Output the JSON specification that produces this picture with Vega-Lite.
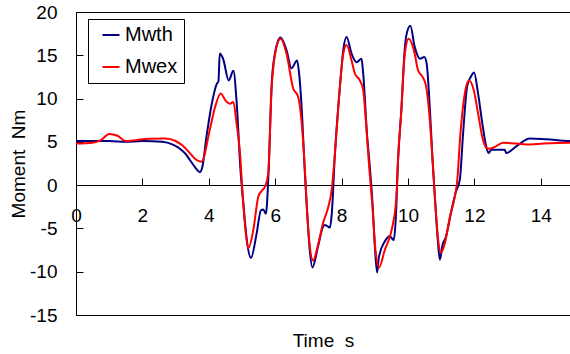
{
  "$schema": "https://vega.github.io/schema/vega-lite/v6.json",
  "width": 498,
  "height": 303,
  "autosize": {"type": "none"},
  "padding": {"left": 76, "top": 12, "right": 0, "bottom": 39},
  "background": "white",
  "config": {
    "font": "Liberation Sans",
    "view": {"stroke": "#000", "strokeWidth": 1},
    "axis": {"grid": false, "domainColor": "#000", "tickColor": "#000", "labelColor": "#000", "titleColor": "#000", "labelFont": "Liberation Sans", "titleFont": "Liberation Sans", "titleFontWeight": "normal"}
  },
  "data": {"values": [
    {"t":0,"m":5.1,"s":"Mwth"},{"t":0.5,"m":5.1,"s":"Mwth"},{"t":1.0,"m":5.1,"s":"Mwth"},{"t":1.5,"m":5.0,"s":"Mwth"},{"t":2.0,"m":5.1,"s":"Mwth"},{"t":2.6,"m":5.0,"s":"Mwth"},{"t":2.9,"m":4.7,"s":"Mwth"},{"t":3.13,"m":4.2,"s":"Mwth"},{"t":3.3,"m":3.6,"s":"Mwth"},{"t":3.43,"m":2.9,"s":"Mwth"},{"t":3.6,"m":2.0,"s":"Mwth"},{"t":3.73,"m":1.5,"s":"Mwth"},{"t":3.8,"m":2.0,"s":"Mwth"},{"t":3.93,"m":5.6,"s":"Mwth"},{"t":4.08,"m":9.2,"s":"Mwth"},{"t":4.24,"m":11.7,"s":"Mwth"},{"t":4.29,"m":12.0,"s":"Mwth"},{"t":4.33,"m":15.2,"s":"Mwth"},{"t":4.43,"m":14.6,"s":"Mwth"},{"t":4.6,"m":12.1,"s":"Mwth"},{"t":4.74,"m":13.2,"s":"Mwth"},{"t":4.84,"m":9.5,"s":"Mwth"},{"t":4.95,"m":2.0,"s":"Mwth"},{"t":5.05,"m":-2.5,"s":"Mwth"},{"t":5.15,"m":-6.5,"s":"Mwth"},{"t":5.27,"m":-8.4,"s":"Mwth"},{"t":5.44,"m":-5.6,"s":"Mwth"},{"t":5.57,"m":-2.9,"s":"Mwth"},{"t":5.64,"m":-2.8,"s":"Mwth"},{"t":5.72,"m":-3.3,"s":"Mwth"},{"t":5.8,"m":1.5,"s":"Mwth"},{"t":5.89,"m":11.4,"s":"Mwth"},{"t":5.99,"m":15.2,"s":"Mwth"},{"t":6.08,"m":16.6,"s":"Mwth"},{"t":6.16,"m":17.05,"s":"Mwth"},{"t":6.34,"m":15.6,"s":"Mwth"},{"t":6.49,"m":13.5,"s":"Mwth"},{"t":6.66,"m":14.4,"s":"Mwth"},{"t":6.72,"m":12.9,"s":"Mwth"},{"t":6.79,"m":9.4,"s":"Mwth"},{"t":6.89,"m":1.7,"s":"Mwth"},{"t":6.96,"m":-3.0,"s":"Mwth"},{"t":7.04,"m":-7.5,"s":"Mwth"},{"t":7.12,"m":-9.5,"s":"Mwth"},{"t":7.29,"m":-7.1,"s":"Mwth"},{"t":7.44,"m":-4.8,"s":"Mwth"},{"t":7.5,"m":-4.6,"s":"Mwth"},{"t":7.65,"m":-4.9,"s":"Mwth"},{"t":7.7,"m":-3.5,"s":"Mwth"},{"t":7.8,"m":3.7,"s":"Mwth"},{"t":7.95,"m":11.4,"s":"Mwth"},{"t":8.05,"m":15.6,"s":"Mwth"},{"t":8.15,"m":17.1,"s":"Mwth"},{"t":8.3,"m":15.2,"s":"Mwth"},{"t":8.45,"m":14.2,"s":"Mwth"},{"t":8.6,"m":14.6,"s":"Mwth"},{"t":8.65,"m":12.9,"s":"Mwth"},{"t":8.77,"m":5.6,"s":"Mwth"},{"t":8.85,"m":2.1,"s":"Mwth"},{"t":8.93,"m":-2.0,"s":"Mwth"},{"t":9.0,"m":-7.0,"s":"Mwth"},{"t":9.07,"m":-10.1,"s":"Mwth"},{"t":9.12,"m":-8.4,"s":"Mwth"},{"t":9.3,"m":-6.5,"s":"Mwth"},{"t":9.45,"m":-5.9,"s":"Mwth"},{"t":9.57,"m":-6.35,"s":"Mwth"},{"t":9.63,"m":-4.0,"s":"Mwth"},{"t":9.7,"m":2.9,"s":"Mwth"},{"t":9.8,"m":8.7,"s":"Mwth"},{"t":9.9,"m":15.6,"s":"Mwth"},{"t":9.95,"m":17.3,"s":"Mwth"},{"t":10.07,"m":18.4,"s":"Mwth"},{"t":10.2,"m":16.0,"s":"Mwth"},{"t":10.36,"m":14.6,"s":"Mwth"},{"t":10.49,"m":14.8,"s":"Mwth"},{"t":10.56,"m":14.1,"s":"Mwth"},{"t":10.66,"m":8.7,"s":"Mwth"},{"t":10.74,"m":2.9,"s":"Mwth"},{"t":10.82,"m":-2.0,"s":"Mwth"},{"t":10.9,"m":-6.5,"s":"Mwth"},{"t":10.96,"m":-8.6,"s":"Mwth"},{"t":11.04,"m":-6.9,"s":"Mwth"},{"t":11.14,"m":-6.0,"s":"Mwth"},{"t":11.31,"m":-2.9,"s":"Mwth"},{"t":11.44,"m":-0.8,"s":"Mwth"},{"t":11.56,"m":0.6,"s":"Mwth"},{"t":11.66,"m":6.0,"s":"Mwth"},{"t":11.78,"m":11.4,"s":"Mwth"},{"t":11.89,"m":12.5,"s":"Mwth"},{"t":11.99,"m":13.0,"s":"Mwth"},{"t":12.11,"m":10.6,"s":"Mwth"},{"t":12.24,"m":7.1,"s":"Mwth"},{"t":12.36,"m":4.4,"s":"Mwth"},{"t":12.43,"m":3.7,"s":"Mwth"},{"t":12.51,"m":4.1,"s":"Mwth"},{"t":12.91,"m":4.1,"s":"Mwth"},{"t":12.96,"m":3.7,"s":"Mwth"},{"t":13.27,"m":4.5,"s":"Mwth"},{"t":13.67,"m":5.4,"s":"Mwth"},{"t":14.17,"m":5.3,"s":"Mwth"},{"t":14.87,"m":5.1,"s":"Mwth"},{"t":15,"m":5.1,"s":"Mwth"},
    {"t":0,"m":4.8,"s":"Mwex"},{"t":0.5,"m":4.9,"s":"Mwex"},{"t":0.75,"m":5.2,"s":"Mwex"},{"t":1.0,"m":5.9,"s":"Mwex"},{"t":1.25,"m":5.7,"s":"Mwex"},{"t":1.5,"m":5.1,"s":"Mwex"},{"t":1.8,"m":5.2,"s":"Mwex"},{"t":2.2,"m":5.35,"s":"Mwex"},{"t":2.7,"m":5.4,"s":"Mwex"},{"t":3.0,"m":5.1,"s":"Mwex"},{"t":3.2,"m":4.6,"s":"Mwex"},{"t":3.43,"m":3.7,"s":"Mwex"},{"t":3.6,"m":3.0,"s":"Mwex"},{"t":3.78,"m":2.7,"s":"Mwex"},{"t":4.03,"m":6.4,"s":"Mwex"},{"t":4.18,"m":8.9,"s":"Mwex"},{"t":4.36,"m":10.6,"s":"Mwex"},{"t":4.5,"m":9.8,"s":"Mwex"},{"t":4.64,"m":9.4,"s":"Mwex"},{"t":4.74,"m":9.6,"s":"Mwex"},{"t":4.84,"m":7.0,"s":"Mwex"},{"t":4.94,"m":3.7,"s":"Mwex"},{"t":5.0,"m":0.0,"s":"Mwex"},{"t":5.1,"m":-5.0,"s":"Mwex"},{"t":5.19,"m":-7.3,"s":"Mwex"},{"t":5.34,"m":-5.2,"s":"Mwex"},{"t":5.49,"m":-1.35,"s":"Mwex"},{"t":5.59,"m":-0.66,"s":"Mwex"},{"t":5.69,"m":-0.2,"s":"Mwex"},{"t":5.79,"m":1.35,"s":"Mwex"},{"t":5.89,"m":11.0,"s":"Mwex"},{"t":5.99,"m":15.0,"s":"Mwex"},{"t":6.16,"m":16.9,"s":"Mwex"},{"t":6.34,"m":15.2,"s":"Mwex"},{"t":6.54,"m":11.2,"s":"Mwex"},{"t":6.69,"m":10.2,"s":"Mwex"},{"t":6.79,"m":7.5,"s":"Mwex"},{"t":6.89,"m":2.1,"s":"Mwex"},{"t":6.96,"m":-3.0,"s":"Mwex"},{"t":7.04,"m":-7.0,"s":"Mwex"},{"t":7.14,"m":-8.7,"s":"Mwex"},{"t":7.29,"m":-6.9,"s":"Mwex"},{"t":7.44,"m":-4.4,"s":"Mwex"},{"t":7.6,"m":-2.5,"s":"Mwex"},{"t":7.7,"m":-0.6,"s":"Mwex"},{"t":7.8,"m":3.7,"s":"Mwex"},{"t":7.95,"m":11.4,"s":"Mwex"},{"t":8.05,"m":15.2,"s":"Mwex"},{"t":8.15,"m":16.2,"s":"Mwex"},{"t":8.3,"m":14.4,"s":"Mwex"},{"t":8.4,"m":12.9,"s":"Mwex"},{"t":8.55,"m":12.1,"s":"Mwex"},{"t":8.65,"m":11.0,"s":"Mwex"},{"t":8.73,"m":7.5,"s":"Mwex"},{"t":8.83,"m":2.1,"s":"Mwex"},{"t":8.93,"m":-2.5,"s":"Mwex"},{"t":9.02,"m":-7.5,"s":"Mwex"},{"t":9.13,"m":-9.5,"s":"Mwex"},{"t":9.3,"m":-7.5,"s":"Mwex"},{"t":9.45,"m":-6.0,"s":"Mwex"},{"t":9.55,"m":-4.4,"s":"Mwex"},{"t":9.65,"m":-1.35,"s":"Mwex"},{"t":9.7,"m":2.9,"s":"Mwex"},{"t":9.8,"m":8.7,"s":"Mwex"},{"t":9.9,"m":15.0,"s":"Mwex"},{"t":10.02,"m":16.9,"s":"Mwex"},{"t":10.2,"m":15.2,"s":"Mwex"},{"t":10.3,"m":13.3,"s":"Mwex"},{"t":10.44,"m":12.5,"s":"Mwex"},{"t":10.54,"m":11.5,"s":"Mwex"},{"t":10.64,"m":8.3,"s":"Mwex"},{"t":10.74,"m":2.9,"s":"Mwex"},{"t":10.82,"m":-2.0,"s":"Mwex"},{"t":10.9,"m":-6.0,"s":"Mwex"},{"t":10.99,"m":-7.8,"s":"Mwex"},{"t":11.11,"m":-6.7,"s":"Mwex"},{"t":11.26,"m":-3.7,"s":"Mwex"},{"t":11.41,"m":-1.35,"s":"Mwex"},{"t":11.48,"m":0.4,"s":"Mwex"},{"t":11.58,"m":6.0,"s":"Mwex"},{"t":11.72,"m":10.8,"s":"Mwex"},{"t":11.84,"m":12.1,"s":"Mwex"},{"t":11.98,"m":11.0,"s":"Mwex"},{"t":12.11,"m":8.3,"s":"Mwex"},{"t":12.26,"m":5.2,"s":"Mwex"},{"t":12.41,"m":4.2,"s":"Mwex"},{"t":12.61,"m":4.4,"s":"Mwex"},{"t":12.86,"m":4.9,"s":"Mwex"},{"t":13.27,"m":4.8,"s":"Mwex"},{"t":13.67,"m":4.7,"s":"Mwex"},{"t":14.07,"m":4.8,"s":"Mwex"},{"t":14.87,"m":4.9,"s":"Mwex"},{"t":15,"m":4.9,"s":"Mwex"}
  ]},
  "mark": {"type": "line", "strokeWidth": 2, "interpolate": "monotone"},
  "encoding": {
    "x": {"field": "t", "type": "quantitative",
      "scale": {"domain": [0, 15], "nice": false, "zero": false},
      "axis": {"title": "Time \u00a0s", "values": [0,2,4,6,8,10,12,14], "offset": -130, "tickSize": -7, "labelPadding": 37, "labelBaseline": "middle", "labelFontSize": 19, "labelFlush": false, "labelOverlap": false, "titleFontSize": 19, "titleX": 247, "titleY": 155, "titleBaseline": "middle", "titleAnchor": null}},
    "y": {"field": "m", "type": "quantitative",
      "scale": {"domain": [-15, 20], "nice": false, "zero": false},
      "axis": {"title": "Moment \u00a0Nm", "values": [-15,-10,-5,0,5,10,15,20], "labelExpr": "replace(datum.label, '\u2212', '-')", "tickSize": -7, "labelPadding": 26, "labelFontSize": 19, "labelFlush": false, "labelOverlap": false, "titleFontSize": 19, "titleX": -58, "titleBaseline": "middle"}},
    "color": {"field": "s", "type": "nominal",
      "scale": {"domain": ["Mwth", "Mwex"], "range": ["#000080", "#ff0000"]},
      "legend": {"title": null, "orient": "none", "legendX": 12, "legendY": 7, "strokeColor": "#000", "fillColor": "#fff", "padding": 6, "symbolType": "stroke", "symbolSize": 289, "symbolStrokeWidth": 2, "symbolOffset": 7, "labelFontSize": 20, "labelFont": "Liberation Sans", "labelColor": "#000", "labelOffset": 4, "rowPadding": 12, "labelExpr": "datum.label + '\u00a0\u00a0\u00a0'"}}
  }
}
